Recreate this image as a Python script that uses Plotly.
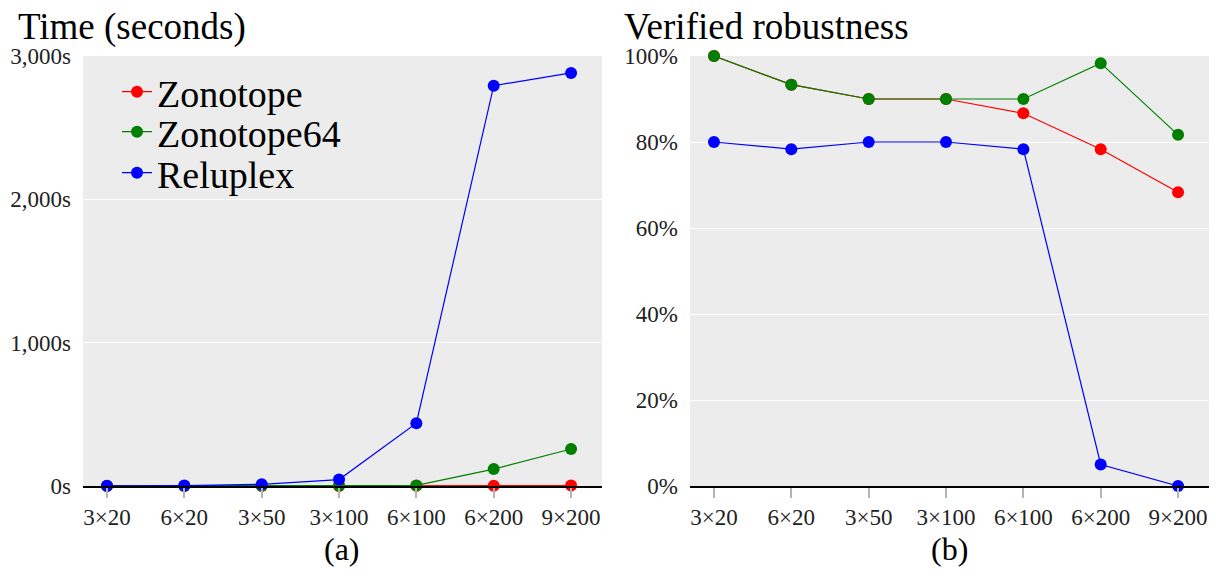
import plotly.graph_objects as go

categories = ["3×20", "6×20", "3×50", "3×100", "6×100", "6×200", "9×200"]

# Time in seconds (panel a)
time_zonotope = [0.2, 0.3, 0.5, 0.8, 1.5, 2.5, 3.5]
time_zonotope64 = [0.3, 0.5, 1, 2, 4, 118, 258]
time_reluplex = [1, 3, 12, 45, 438, 2793, 2882]

# Verified robustness in percent (panel b)
rob_zonotope = [100, 93.33, 90, 90, 86.67, 78.33, 68.33]
rob_zonotope64 = [100, 93.33, 90, 90, 90, 98.33, 81.67]
rob_reluplex = [80, 78.33, 80, 80, 78.33, 5, 0]

series_names = ["Zonotope", "Zonotope64", "Reluplex"]
series_colors = ["#ff0000", "#008000", "#0000ff"]

time_ticks = [0, 1000, 2000, 3000]
time_ticktext = ["0s", "1,000s", "2,000s", "3,000s"]
rob_ticks = [0, 20, 40, 60, 80, 100]
rob_ticktext = ["0%", "20%", "40%", "60%", "80%", "100%"]

FONT = "Liberation Serif"
# the page body has an 8px margin, so the figure is drawn 8px in from the window edge
OFF = 8
W, H = 1219 - OFF, 583 - OFF

def px_x(p):
    return (p - OFF) / W

def px_y(p):
    return 1 - (p - OFF) / H

fig = go.Figure()

legend_ids = ["legend", "legend2", "legend3"]
for name, color, vals, lg in zip(series_names, series_colors,
                                 [time_zonotope, time_zonotope64, time_reluplex], legend_ids):
    fig.add_trace(go.Scatter(
        x=categories, y=vals, name=name, mode="lines+markers",
        line=dict(color=color, width=1.2),
        marker=dict(color=color, size=12),
        cliponaxis=False, xaxis="x", yaxis="y", legend=lg,
    ))

for name, color, vals in zip(series_names, series_colors,
                             [rob_zonotope, rob_zonotope64, rob_reluplex]):
    fig.add_trace(go.Scatter(
        x=categories, y=vals, name=name, mode="lines+markers",
        line=dict(color=color, width=1.2),
        marker=dict(color=color, size=12),
        cliponaxis=False, xaxis="x2", yaxis="y2", showlegend=False,
    ))

ydom = [px_y(486), px_y(56)]
xcommon = dict(
    type="category", categoryorder="array", categoryarray=categories,
    range=[-0.31, 6.4], showline=True, linecolor="black", linewidth=1.5,
    ticks="outside", ticklen=10, tickwidth=1.5, tickcolor="#b4b4b4",
    showgrid=False, zeroline=False, tickfont=dict(family=FONT, size=23, color="#222"),
    ticklabelstandoff=0, fixedrange=True, automargin=False,
)
ycommon = dict(
    showline=False, zeroline=False, ticks="", gridcolor="white", gridwidth=1,
    tickfont=dict(family=FONT, size=23, color="#222"), fixedrange=True, automargin=False,
)

legend_common = dict(
    bgcolor="rgba(0,0,0,0)", font=dict(family=FONT, size=38, color="black"),
    xanchor="left", yanchor="middle", itemwidth=30, borderwidth=0,
)
legend_rows = [92, 132, 173]
legend_x = 117

fig.update_layout(
    width=W, height=H,
    margin=dict(l=0, r=0, t=0, b=0, autoexpand=False),
    paper_bgcolor="white", plot_bgcolor="#ececec",
    xaxis=dict(domain=[px_x(83), px_x(602)], anchor="y", **xcommon),
    yaxis=dict(domain=ydom, anchor="x", range=[0, 3000], tickvals=time_ticks,
               ticktext=time_ticktext, ticklabelstandoff=11, **ycommon),
    xaxis2=dict(domain=[px_x(690), px_x(1209)], anchor="y2", **xcommon),
    yaxis2=dict(domain=ydom, anchor="x2", range=[0, 100], tickvals=rob_ticks,
                ticktext=rob_ticktext, ticklabelstandoff=11, **ycommon),
    legend=dict(x=px_x(legend_x), y=px_y(legend_rows[0]), **legend_common),
    legend2=dict(x=px_x(legend_x), y=px_y(legend_rows[1]), **legend_common),
    legend3=dict(x=px_x(legend_x), y=px_y(legend_rows[2]), **legend_common),
    annotations=[
        dict(text="Time (seconds)", x=px_x(16), y=px_y(27), xref="paper", yref="paper",
             xanchor="left", yanchor="middle", showarrow=False,
             font=dict(family=FONT, size=37, color="black")),
        dict(text="Verified robustness", x=px_x(622), y=px_y(27), xref="paper", yref="paper",
             xanchor="left", yanchor="middle", showarrow=False,
             font=dict(family=FONT, size=37, color="black")),
        dict(text="(a)", x=px_x(342), y=px_y(549), xref="paper", yref="paper",
             xanchor="center", yanchor="middle", showarrow=False,
             font=dict(family=FONT, size=32, color="black")),
        dict(text="(b)", x=px_x(949), y=px_y(549), xref="paper", yref="paper",
             xanchor="center", yanchor="middle", showarrow=False,
             font=dict(family=FONT, size=32, color="black")),
    ],
)

fig.write_html("out.html")
